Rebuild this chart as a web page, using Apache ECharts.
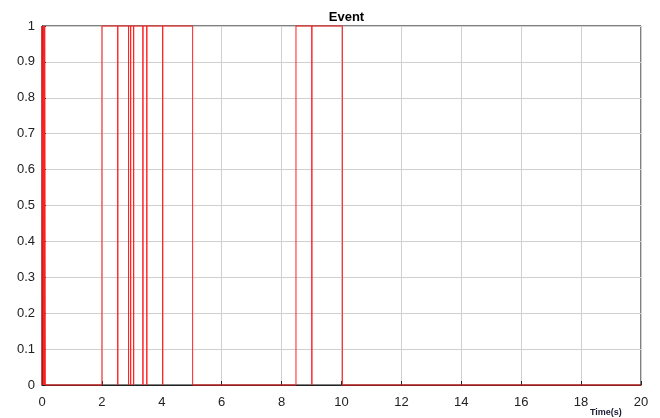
<!DOCTYPE html>
<html>
<head>
<meta charset="utf-8">
<script src="https://cdn.jsdelivr.net/npm/echarts@6/dist/echarts.min.js"></script>
<style>html,body{margin:0;padding:0;background:#fff}#c{width:660px;height:418px}</style>
</head>
<body>
<div id="c"></div>
<script>
// Step path of the Event signal: time (s) and level
var times  = [0, 0, 0.05, 0.05, 0.05, 0.07, 0.07, 0.07, 0.09, 0.09, 0.09, 0.11, 0.11,
              2, 2, 2.53, 2.53, 2.53, 2.89, 2.89, 2.89, 2.96, 2.96, 2.96,
              3.06, 3.06, 3.06, 3.37, 3.37, 3.37, 3.50, 3.50, 3.50,
              4.03, 4.03, 4.03, 5.03, 5.03,
              8.48, 8.48, 9.01, 9.01, 9.01, 10.03, 10.03, 20];
var levels = [0, 1, 1, 0, 1, 1, 0, 1, 1, 0, 1, 1, 0,
              0, 1, 1, 0, 1, 1, 0, 1, 1, 0, 1,
              1, 0, 1, 1, 0, 1, 1, 0, 1,
              1, 0, 1, 1, 0,
              0, 1, 1, 0, 1, 1, 0, 0];
var xTicks = [0, 2, 4, 6, 8, 10, 12, 14, 16, 18, 20];
var yTicks = [0, 0.1, 0.2, 0.3, 0.4, 0.5, 0.6, 0.7, 0.8, 0.9, 1];

var data = times.map(function (t, i) { return [t, levels[i]]; });

var chart = echarts.init(document.getElementById('c'), null, {renderer: 'canvas'});
var font = 'Liberation Sans, Arial, sans-serif';
chart.setOption({
  animation: false,
  backgroundColor: '#fff',
  title: {
    text: 'Event', left: 341.5, top: 6, textAlign: 'center',
    textStyle: {fontSize: 13, fontWeight: 'bold', color: '#000', fontFamily: font}
  },
  grid: {left: 42, right: 19, top: 26, bottom: 33, show: true, borderColor: '#000', borderWidth: 1},
  xAxis: {
    type: 'value', min: xTicks[0], max: xTicks[xTicks.length - 1], interval: 2,
    axisLine: {show: true, lineStyle: {color: '#222', width: 1}},
    axisTick: {show: true, inside: true, length: 4, lineStyle: {color: '#222'}},
    axisLabel: {fontSize: 13, color: '#222', fontFamily: font, margin: 11},
    splitLine: {show: true, lineStyle: {color: '#cfcfcf', width: 1}}
  },
  yAxis: {
    type: 'value', min: yTicks[0], max: yTicks[yTicks.length - 1], interval: 0.1,
    axisLine: {show: true, lineStyle: {color: '#222', width: 1}},
    axisTick: {show: true, inside: true, length: 4, lineStyle: {color: '#222'}},
    axisLabel: {fontSize: 13, color: '#222', fontFamily: font, margin: 7,
      formatter: function (v) { return String(Math.round(v * 10) / 10); }},
    splitLine: {show: true, lineStyle: {color: '#cfcfcf', width: 1}}
  },
  graphic: [{
    type: 'text', left: 590, top: 408,
    style: {text: 'Time(s)', fontSize: 9, fontWeight: 'bold', fill: '#1a1a33', fontFamily: font}
  }],
  series: [{
    type: 'line', data: data, showSymbol: false, clip: false, z: 10,
    lineStyle: {color: '#ff2020', width: 1}
  }]
});
</script>
</body>
</html>
